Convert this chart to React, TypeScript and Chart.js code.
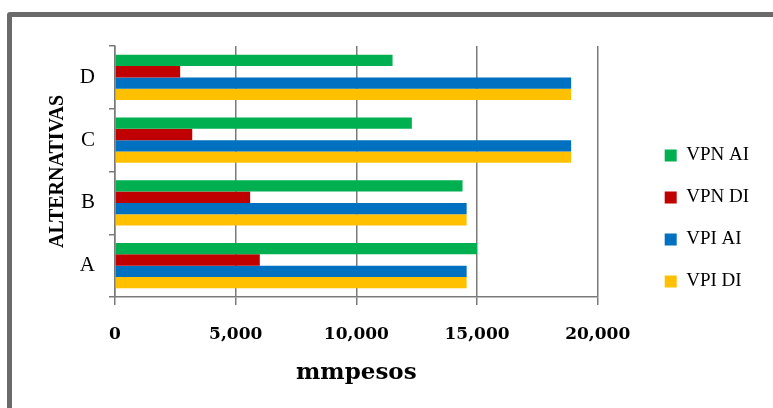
import React, { useEffect, useRef } from "react";
import { Chart, registerables } from "chart.js";

Chart.register(...registerables);

const categories = ["D", "C", "B", "A"];
const seriesNames = ["VPN AI", "VPN DI", "VPI AI", "VPI DI"];
const vpnAI = [11500, 12300, 14400, 15000];
const vpnDI = [2700, 3200, 5600, 6000];
const vpiAI = [18900, 18900, 14570, 14570];
const vpiDI = [18900, 18900, 14570, 14570];
const seriesColors = ["#00B050", "#C00000", "#0070C0", "#FFC000"];
const xTicks = [0, 5000, 10000, 15000, 20000];

export default function App() {
  const ref = useRef<HTMLCanvasElement | null>(null);

  useEffect(() => {
    if (!ref.current) return;
    const values = [vpnAI, vpnDI, vpiAI, vpiDI];
    const chart = new Chart(ref.current, {
      type: "bar",
      data: {
        labels: categories,
        datasets: seriesNames.map((name, i) => ({
          label: name,
          data: values[i],
          backgroundColor: seriesColors[i],
          borderWidth: 0,
          categoryPercentage: 0.72,
          barPercentage: 1.0,
        })),
      },
      options: {
        indexAxis: "y",
        responsive: false,
        animation: false,
        layout: { padding: { top: 29, left: 30, right: 14, bottom: 17 } },
        plugins: {
          tooltip: { enabled: false },
          legend: {
            position: "right",
            align: "center",
            labels: {
              boxWidth: 12,
              boxHeight: 12,
              padding: 23,
              color: "#000",
              font: { family: "'Liberation Serif', serif", size: 19 },
            },
          },
        },
        scales: {
          y: {
            type: "category",
            offset: true,
            grid: {
              offset: true,
              drawOnChartArea: false,
              drawTicks: true,
              tickLength: 6,
              color: "#7a7a7a",
              lineWidth: 1.5,
            },
            border: { display: true, color: "#7a7a7a", width: 1.5 },
            ticks: {
              color: "#000",
              padding: 14,
              font: { family: "'Liberation Serif', serif", size: 21 },
            },
            title: {
              display: true,
              text: "ALTERNATIVAS",
              color: "#000",
              padding: { top: 4, bottom: 10 },
              font: { family: "'Liberation Serif', serif", size: 20, weight: "bold" },
            },
            afterFit: (s: any) => {
              s.width = 73;
            },
          },
          spacer: {
            type: "linear",
            axis: "y",
            position: "right",
            display: true,
            grid: { display: false, drawTicks: false },
            border: { display: false },
            ticks: { display: false },
            afterFit: (s: any) => {
              s.width = 44;
            },
          },
          x: {
            type: "linear",
            min: xTicks[0],
            max: xTicks[xTicks.length - 1],
            afterBuildTicks: (s: any) => {
              s.ticks = xTicks.map((v) => ({ value: v }));
            },
            grid: {
              drawOnChartArea: true,
              drawTicks: true,
              tickLength: 8,
              color: "#7a7a7a",
              lineWidth: 1.5,
            },
            border: { display: true, color: "#7a7a7a", width: 1.5 },
            ticks: {
              color: "#000",
              padding: 19,
              maxRotation: 0,
              font: { family: "'DejaVu Serif', serif", size: 17, weight: "bold" },
              callback: (v: any) => Number(v).toLocaleString("en-US"),
            },
            title: {
              display: true,
              text: "mmpesos",
              color: "#000",
              padding: { top: 15, bottom: 4 },
              font: { family: "'DejaVu Serif', serif", size: 23, weight: "bold" },
            },
            afterFit: (s: any) => {
              s.height = 94;
            },
          },
        },
      },
    });
    return () => chart.destroy();
  }, []);

  return (
    <div style={{ position: "fixed", left: 0, top: 0, width: 773, height: 408, overflow: "hidden", background: "#fff" }}>
      <div
        style={{
          position: "absolute",
          left: 7,
          top: 12,
          width: 800,
          height: 450,
          border: "5px solid #6a6a6a",
          borderRadius: 3,
          boxSizing: "border-box",
        }}
      />
      <div style={{ position: "absolute", left: 12, top: 17, width: 761, height: 391 }}>
        <canvas ref={ref} width={761} height={391} style={{ width: 761, height: 391, display: "block" }} />
      </div>
    </div>
  );
}
